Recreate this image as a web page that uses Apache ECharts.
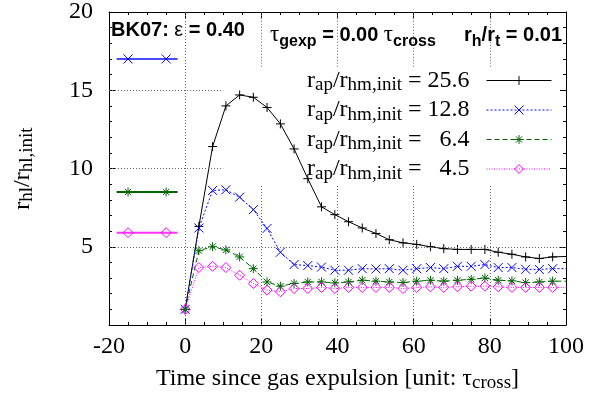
<!DOCTYPE html>
<html>
<head>
<meta charset="utf-8">
<script src="https://cdn.jsdelivr.net/npm/echarts@6/dist/echarts.min.js"></script>
<style>
html,body{margin:0;padding:0;background:#fff;}
#chart{width:590px;height:405px;}
</style>
</head>
<body>
<div id="chart"></div>
<script>
// ---- data ----
const times = [0, 3.6, 7.2, 10.7, 14.3, 17.9, 21.5, 25.0, 28.6, 32.2, 35.8, 39.3, 42.9, 46.5, 50.1, 53.6, 57.2, 60.8, 64.4, 67.9, 71.5, 75.1, 78.7, 82.2, 85.8, 89.4, 93.0, 96.5, 100.1];
const r256 = [1.0, 6.3, 11.4, 14.0, 14.7, 14.55, 13.9, 12.85, 11.25, 9.35, 7.55, 7.05, 6.6, 6.2, 5.85, 5.45, 5.25, 5.15, 5.0, 4.88, 4.83, 4.83, 4.83, 4.65, 4.52, 4.35, 4.25, 4.35, 4.38];
const r128 = [1.0, 6.2, 8.6, 8.64, 8.17, 7.37, 6.17, 4.65, 3.86, 3.8, 3.7, 3.5, 3.5, 3.6, 3.58, 3.6, 3.5, 3.6, 3.67, 3.6, 3.75, 3.75, 3.86, 3.67, 3.67, 3.56, 3.55, 3.6, 3.6];
const r64  = [1.0, 4.75, 5.0, 4.8, 4.35, 3.6, 2.75, 2.48, 2.65, 2.75, 2.75, 2.69, 2.75, 2.86, 2.8, 2.75, 2.71, 2.8, 2.86, 2.8, 2.86, 2.92, 3.0, 2.86, 2.82, 2.71, 2.75, 2.8, 2.8];
const r45  = [1.0, 3.67, 3.75, 3.67, 3.18, 2.65, 2.23, 2.12, 2.33, 2.33, 2.4, 2.33, 2.4, 2.4, 2.4, 2.4, 2.33, 2.4, 2.44, 2.4, 2.44, 2.48, 2.48, 2.44, 2.4, 2.4, 2.4, 2.4, 2.4];
const legendValues = ['25.6', '12.8', '6.4', '4.5'];
// left-side key samples: x positions and y levels
const sampleX = [-18, -15, -5, -2];
const sampleBlueY = 17.0;
const sampleGreenY = 8.5;
const sampleMagentaY = 5.9;
const xMin = -20, xMax = 100, xStep = 20;
const yMin = 0, yMax = 20, yStep = 5;

// ---- rendering ----
const SERIF = 'Liberation Serif';
const SANS = 'Liberation Sans';
const chart = echarts.init(document.getElementById('chart'), null, {renderer: 'canvas'});

const SYM_PLUS = 'path://M0,5L10,5M5,0L5,10';
const SYM_CROSS = 'path://M0,0L10,10M10,0L0,10';
const SYM_STAR = 'path://M0,5L10,5M5,0L5,10M1.5,1.5L8.5,8.5M8.5,1.5L1.5,8.5';
const SYM_DIAM = 'path://M5,0L10,5L5,10L0,5Z';

const colors = ['#000000', '#0000ff', '#006400', '#ff00ff'];
const dashes = ['solid', [2, 2], [5, 3], [1, 1.5]];
const syms = [SYM_PLUS, SYM_CROSS, SYM_STAR, SYM_DIAM];
const sizes = [9, 9, 9, 10];
const seriesVals = [r256, r128, r64, r45];
const names = legendValues.map(v => 'r' + v);

const mainSeries = seriesVals.map((vals, i) => ({
  name: names[i],
  type: 'line',
  data: times.map((t, k) => [t, vals[k]]),
  symbol: syms[i],
  symbolSize: sizes[i],
  showAllSymbol: true,
  clip: true,
  z: 3,
  lineStyle: {color: colors[i], width: 1, type: dashes[i]},
  itemStyle: {color: 'rgba(0,0,0,0)', borderColor: colors[i], borderWidth: 1},
  emphasis: {disabled: true},
  animation: false
}));

function sampleSeries(y, color, sym, lineColor, size) {
  return {
    type: 'line',
    data: sampleX.map((x, k) => ({value: [x, y], symbol: (k === 0 || k === sampleX.length - 1) ? 'none' : sym})),
    symbolSize: size,
    showAllSymbol: true,
    z: 3,
    lineStyle: {color: lineColor, width: 2, type: 'solid'},
    itemStyle: {color: 'rgba(0,0,0,0)', borderColor: color, borderWidth: 1},
    emphasis: {disabled: true},
    animation: false
  };
}

// grid segments (data coords) where gnuplot grid is visible
const gridSegs = [
  [0, 0, 0, 20],
  [20, 0, 20, 9], [20, 16.5, 20, 20],
  [40, 0, 40, 9], [40, 16.5, 40, 20],
  [60, 0, 60, 9], [60, 16.5, 60, 20],
  [80, 0, 80, 9], [80, 16.5, 80, 20],
  [-20, 5, 100, 5],
  [-20, 10, 10, 10],
  [-20, 15, 10, 15]
];
const gridSeries = {
  type: 'line',
  data: [],
  z: 1,
  silent: true,
  animation: false,
  markLine: {
    symbol: 'none',
    silent: true,
    animation: false,
    label: {show: false},
    lineStyle: {color: '#666', width: 1, type: [1, 2]},
    emphasis: {disabled: true},
    data: gridSegs.map(s => [{coord: [s[0], s[1]]}, {coord: [s[2], s[3]]}])
  }
};

const legRich = {
  m: {fontFamily: SERIF, fontSize: 24, lineHeight: 29, color: '#000'},
  s: {fontFamily: SERIF, fontSize: 19, lineHeight: 19, padding: [10, 0, 0, 0], color: '#000'},
  n: {fontFamily: SERIF, fontSize: 24, lineHeight: 29, width: 42, align: 'right', color: '#000'}
};
const axRich = {
  m: {fontFamily: SERIF, fontSize: 24, lineHeight: 29, color: '#000'},
  s: {fontFamily: SERIF, fontSize: 19, lineHeight: 19, padding: [10, 0, 0, 0], color: '#000'}
};
const titleRich = {
  b: {fontFamily: SANS, fontWeight: 'bold', fontSize: 20, lineHeight: 30, fill: '#000', color: '#000'},
  g: {fontFamily: SANS, fontSize: 20, lineHeight: 30, fill: '#000', color: '#000'},
  t: {fontFamily: SERIF, fontSize: 23, lineHeight: 30, fill: '#000', color: '#000'},
  bs: {fontFamily: SANS, fontWeight: 'bold', fontSize: 16, lineHeight: 16, padding: [14, 0, 0, 0], fill: '#000', color: '#000'}
};

const AXLINE = {show: true, onZero: false, lineStyle: {color: '#000', width: 1}};
const AXTICK = {show: true, inside: true, length: 6, lineStyle: {color: '#000'}};

const option = {
  backgroundColor: '#fff',
  animation: false,
  grid: {left: 103, right: 24, top: 11, bottom: 80, containLabel: false},
  xAxis: [
    {
      type: 'value', position: 'bottom', min: xMin, max: xMax, interval: xStep,
      axisLine: AXLINE, axisTick: AXTICK, splitLine: {show: false},
      minorTick: {show: true, splitNumber: 4, length: 3, lineStyle: {color: '#000'}},
      axisLabel: {fontFamily: SERIF, fontSize: 24, color: '#000', margin: 10},
      name: '{m|Time since gas expulsion [unit: τ}{s|cross}{m|]}',
      nameLocation: 'middle', nameGap: 38,
      nameTextStyle: {rich: axRich}
    },
    {
      type: 'value', position: 'top', min: xMin, max: xMax, interval: xStep,
      axisLine: AXLINE, axisTick: AXTICK, splitLine: {show: false},
      minorTick: {show: true, splitNumber: 4, length: 3, lineStyle: {color: '#000'}},
      axisLabel: {show: false}
    }
  ],
  yAxis: [
    {
      type: 'value', position: 'left', min: yMin, max: yMax, interval: yStep,
      axisLine: AXLINE, axisTick: AXTICK, splitLine: {show: false},
      minorTick: {show: true, splitNumber: 5, length: 3, lineStyle: {color: '#000'}},
      axisLabel: {fontFamily: SERIF, fontSize: 24, color: '#000', margin: 16,
        formatter: v => (v === 0 ? '' : String(v))},
      name: '{m|r}{s|hl}{m|/r}{s|hl,init}',
      nameLocation: 'middle', nameGap: 72, nameRotate: 90,
      nameTextStyle: {rich: axRich}
    },
    {
      type: 'value', position: 'right', min: yMin, max: yMax, interval: yStep,
      axisLine: AXLINE, axisTick: AXTICK, splitLine: {show: false},
      minorTick: {show: true, splitNumber: 5, length: 3, lineStyle: {color: '#000'}},
      axisLabel: {show: false}
    }
  ],
  legend: {
    data: names,
    orient: 'vertical',
    right: 38,
    top: 66,
    padding: 0,
    itemGap: 0.5,
    itemWidth: 65,
    itemHeight: 11,
    align: 'right',
    selectedMode: false,
    itemStyle: {borderWidth: 1},
    lineStyle: {width: 1},
    formatter: function (name) {
      const v = legendValues[names.indexOf(name)];
      return '{m|r}{s|ap}{m|/r}{s|hm,init}{m| = }{n|' + v + '}';
    },
    textStyle: {rich: legRich, padding: [0, 12, 0, 0]}
  },
  graphic: [
    {type: 'text', left: 111, top: 20, z: 10, style: {text: '{b|BK07: }{g|ε}{b| = 0.40}', rich: titleRich}},
    {type: 'text', left: 270, top: 20, z: 10, style: {text: '{t|τ}{bs|gexp}{b| = 0.00 }{t|τ}{bs|cross}', rich: titleRich}},
    {type: 'text', right: 28, top: 20, z: 10, style: {text: '{b|r}{bs|h}{b|/r}{bs|t}{b| = 0.01}', rich: titleRich}}
  ],
  series: [gridSeries].concat(mainSeries).concat([
    sampleSeries(sampleBlueY, '#0000ff', SYM_CROSS, '#4a4aff', 9),
    sampleSeries(sampleGreenY, '#006400', SYM_STAR, '#006400', 9),
    sampleSeries(sampleMagentaY, '#ff00ff', SYM_DIAM, '#ff33ff', 10)
  ])
};
chart.setOption(option);
</script>
</body>
</html>
